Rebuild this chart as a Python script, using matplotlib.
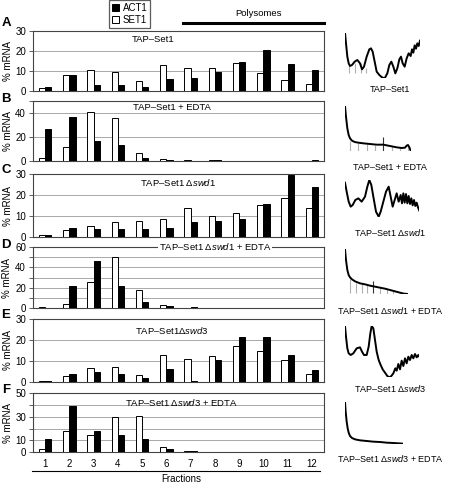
import matplotlib
matplotlib.use("Agg")
import matplotlib.pyplot as plt
from matplotlib.patches import Patch
from matplotlib.lines import Line2D

plt.rcParams['font.family'] = ['Liberation Sans', 'DejaVu Sans']
plt.rcParams['mathtext.fontset'] = 'custom'
plt.rcParams['mathtext.rm'] = 'Liberation Sans'
plt.rcParams['mathtext.it'] = 'Liberation Sans:italic'

# ---------------- data ----------------
fractions = [1, 2, 3, 4, 5, 6, 7, 8, 9, 10, 11, 12]
series_names = ["ACT1", "SET1"]
panel_letters = ["A", "B", "C", "D", "E", "F"]
panel_titles = [
    "TAP–Set1",
    "TAP–Set1 + EDTA",
    r"TAP–Set1 $\Delta\it{swd1}$",
    r"TAP–Set1 $\Delta\it{swd1}$ + EDTA",
    r"TAP–Set1$\Delta\it{swd3}$",
    r"TAP–Set1 $\Delta\it{swd3}$ + EDTA",
]
profile_labels = [
    "TAP–Set1",
    "TAP–Set1 + EDTA",
    r"TAP–Set1 $\Delta\it{swd1}$",
    r"TAP–Set1 $\Delta\it{swd1}$ + EDTA",
    r"TAP–Set1 $\Delta\it{swd3}$",
    r"TAP–Set1 $\Delta\it{swd3}$ + EDTA",
]

set1_A = [1.5, 8.0, 10.3, 9.2, 5.0, 13.0, 11.2, 11.5, 14.0, 8.8, 5.2, 3.5]
act1_A = [2.0, 8.0, 3.0, 2.7, 1.7, 6.0, 6.3, 9.6, 14.5, 20.4, 13.5, 10.3]
set1_B = [2.2, 11.5, 41.0, 36.0, 6.5, 1.4, 0.5, 0.5, 0.4, 0.4, 0.4, 0.4]
act1_B = [26.7, 37.0, 16.6, 13.5, 2.5, 1.1, 0.4, 1.0, 0.3, 0.3, 0.3, 0.5]
set1_C = [1.1, 3.3, 5.4, 7.1, 7.5, 8.5, 13.8, 10.2, 11.4, 15.2, 18.6, 14.1]
act1_C = [1.1, 4.1, 4.0, 3.6, 3.6, 4.3, 7.1, 7.5, 8.6, 15.7, 29.7, 24.1]
set1_D = [0.8, 3.9, 26.1, 50.0, 17.7, 3.2, 0.4, 0.3, 0.3, 0.3, 0.2, 0.2]
act1_D = [0.0, 22.3, 46.1, 21.6, 6.1, 1.9, 1.0, 0.3, 0.0, 0.0, 0.0, 0.0]
set1_E = [0.3, 2.9, 6.4, 6.9, 3.4, 12.6, 10.7, 12.2, 17.4, 15.0, 10.2, 3.5]
act1_E = [0.2, 3.8, 4.5, 3.5, 1.8, 6.2, 0.5, 10.6, 21.3, 21.3, 12.6, 5.4]
set1_F = [2.5, 18.2, 14.6, 30.0, 31.0, 4.2, 1.4, 0.6, 0.5, 0.5, 0.3, 0.4]
act1_F = [11.2, 39.0, 18.2, 14.8, 10.9, 3.1, 0.8, 0.4, 0.3, 0.2, 0.2, 0.2]

set1_all = [set1_A, set1_B, set1_C, set1_D, set1_E, set1_F]
act1_all = [act1_A, act1_B, act1_C, act1_D, act1_E, act1_F]

y_max = [30, 50, 30, 60, 30, 50]
y_grid = [[10, 20, 30], [20, 40, 50], [10, 20, 30],
          [10, 20, 30, 40, 50, 60], [10, 20, 30], [10, 20, 30, 40, 50]]
y_ticklabels = [[0, 10, 20, 30], [0, 20, 40], [0, 10, 20, 30],
                [0, 20, 40, 60], [0, 10, 20, 30], [0, 10, 30, 50]]

# polysome profile traces (position along gradient, absorbance reading)
prof1_x = [45, 48, 52, 56, 60, 66, 74, 82, 90, 96, 102, 110, 118, 123, 128, 134, 140, 148, 156, 164,
           172, 178, 184, 190, 196, 202, 208, 213, 218, 224, 230, 236, 242, 246, 250, 254, 258, 262, 266, 270]
prof1_y = [38, 70, 110, 130, 138, 135, 125, 120, 130, 148, 140, 110, 88, 85, 95, 125, 155, 165, 172, 175,
           160, 135, 125, 140, 160, 145, 118, 110, 130, 140, 115, 100, 108, 88, 98, 76, 86, 70, 78, 62]
prof2_x = [45, 48, 52, 56, 60, 66, 74, 85, 100, 120, 140, 160, 180, 200, 215, 225, 230, 234, 238, 242]
prof2_y = [258, 290, 325, 345, 355, 362, 366, 368, 370, 372, 374, 374, 378, 382, 384, 383, 377, 375, 382, 392]
prof3_x = [45, 50, 56, 62, 68, 76, 85, 95, 105, 112, 118, 124, 130, 138, 146, 152, 160, 168, 176, 182,
           188, 194, 200, 206, 212, 216, 220, 224, 228, 232, 236, 240, 244, 248, 252, 256, 260, 264, 268]
prof3_y = [488, 515, 545, 560, 555, 540, 535, 545, 530, 500, 480, 495, 530, 575, 590, 575, 545, 515, 500, 530,
           560, 540, 520, 545, 525, 550, 520, 548, 522, 550, 528, 552, 535, 556, 540, 558, 548, 562, 572]
prof4_x = [45, 48, 52, 56, 60, 66, 75, 90, 105, 120, 135, 150, 165, 180, 195, 210, 222, 235]
prof4_y = [28, 60, 90, 105, 112, 118, 124, 130, 133, 137, 140, 143, 146, 150, 154, 158, 161, 162]
prof5_x = [45, 48, 52, 56, 62, 70, 80, 90, 96, 102, 110, 116, 121, 125, 130, 135, 140, 146, 152, 158,
           165, 172, 178, 184, 190, 196, 200, 205, 210, 215, 220, 225, 230, 235, 240, 245, 250, 255, 260, 265, 268]
prof5_y = [258, 290, 325, 340, 345, 340, 325, 322, 335, 345, 345, 320, 280, 258, 265, 300, 335, 360, 375, 388,
           398, 408, 412, 408, 400, 385, 392, 372, 388, 362, 378, 355, 370, 350, 360, 345, 355, 342, 352, 345, 350]
prof6_x = [45, 47, 50, 53, 56, 60, 66, 75, 90, 110, 130, 150, 170, 190, 205, 220]
prof6_y = [485, 515, 545, 565, 578, 588, 594, 598, 601, 603, 605, 606, 608, 609, 610, 611]
profiles = [(prof1_x, prof1_y), (prof2_x, prof2_y), (prof3_x, prof3_y),
            (prof4_x, prof4_y), (prof5_x, prof5_y), (prof6_x, prof6_y)]

# fraction marks drawn under the profiles (x, top, bottom); the darker one marks fraction 5/6
marks1_x = [58, 75, 92, 108]
marks1_top = [135, 128, 128, 145]
marks1_bot = [160, 160, 160, 160]
marks2_x = [60, 85, 110, 135, 185, 210, 235]
marks2_top = [362, 370, 372, 374, 378, 383, 380]
marks2_bot = [392, 392, 392, 392, 392, 392, 392]
marks2_dark_x = [160]
marks2_dark_top = [352]
marks2_dark_bot = [394]
marks4_x = [60, 78, 95, 112, 150, 170, 190, 210]
marks4_top = [116, 128, 132, 136, 143, 146, 152, 158]
marks4_bot = [160, 160, 160, 160, 162, 162, 162, 162]
marks4_dark_x = [130]
marks4_dark_top = [124]
marks4_dark_bot = [160]
marks_all = [(marks1_x, marks1_top, marks1_bot, [], [], []),
             (marks2_x, marks2_top, marks2_bot, marks2_dark_x, marks2_dark_top, marks2_dark_bot),
             None,
             (marks4_x, marks4_top, marks4_bot, marks4_dark_x, marks4_dark_top, marks4_dark_bot),
             None, None]

# ---------------- layout ----------------
W, H = 449, 484
fig = plt.figure(figsize=(W / 100, H / 100), dpi=100)


def rect(left, top, right, bottom):
    return [left / W, 1 - bottom / H, (right - left) / W, (bottom - top) / H]


def fx(x):
    return x / W


def fy(y):
    return 1 - y / H


ax_left, ax_right = 33, 324
panel_tb = [(31, 90.6), (101.5, 161), (174.3, 237), (247, 308.3), (319.3, 381.7), (393, 452.3)]
title_pos = [(153, 39), (172, 108), (178, 182), (215, 247), (172, 330), (181, 402)]
letter_y = [23, 99, 170, 245, 315, 390]

bw = 0.26
grid_col = "#9a9a9a"
axes_list = []
for i in range(6):
    top, bot = panel_tb[i]
    ax = fig.add_axes(rect(ax_left, top, ax_right, bot))
    axes_list.append(ax)
    ax.bar([f - bw / 2 for f in fractions], set1_all[i], width=bw, color="white",
           edgecolor="black", linewidth=0.7, zorder=3)
    ax.bar([f + bw / 2 for f in fractions], act1_all[i], width=bw, color="black",
           edgecolor="black", linewidth=0.7, zorder=3)
    ax.set_xlim(0.5, 12.5)
    ax.set_ylim(0, y_max[i])
    for g in y_grid[i]:
        if g < y_max[i]:
            ax.axhline(g, color=grid_col, lw=0.6, zorder=1)
    ticks = sorted(set(y_grid[i] + [0]))
    ax.set_yticks(ticks)
    ax.set_yticklabels([str(t) if t in y_ticklabels[i] else "" for t in ticks])
    ax.set_xticks([])
    ax.tick_params(axis='y', length=3, width=0.6, labelsize=7, pad=2, color="#444444")
    for s in ax.spines.values():
        s.set_color("#444444")
        s.set_linewidth(0.8)
    ax.set_ylabel("% mRNA", fontsize=7, labelpad=2)
    tx, ty = title_pos[i]
    fig.text(fx(tx), fy(ty), panel_titles[i], fontsize=6.8, ha="center", va="center",
             bbox=dict(facecolor="white", edgecolor="none", pad=0.5) if i == 3 else None, zorder=5)
    fig.text(fx(6), fy(letter_y[i]), panel_letters[i], fontsize=9.5, fontweight="bold",
             ha="center", va="center")

# fraction axis labels under F
axF = axes_list[-1]
axF.set_xticks(fractions)
axF.set_xticklabels([str(f) for f in fractions])
axF.tick_params(axis='x', length=0, labelsize=7, pad=5)
fig.add_artist(Line2D([fx(32), fx(320)], [fy(471), fy(471)], color="black", lw=0.8))
fig.text(fx(181), fy(479), "Fractions", fontsize=7, ha="center", va="center")

# legend
handles = [Patch(facecolor="black", edgecolor="black", lw=0.7),
           Patch(facecolor="white", edgecolor="black", lw=0.7)]
leg = fig.legend(handles, series_names, loc="upper left", bbox_to_anchor=(fx(109), fy(0)),
                 fontsize=7, frameon=True, fancybox=False, edgecolor="#333333",
                 handlelength=0.7, handleheight=0.7, handletextpad=0.4, borderpad=0.3,
                 labelspacing=0.2, borderaxespad=0)
leg.get_frame().set_linewidth(0.9)

# polysomes bar
fig.add_artist(Line2D([fx(183), fx(324)], [fy(23), fy(23)], color="black", lw=2.2))
fig.text(fx(259), fy(13), "Polysomes", fontsize=6.8, ha="center", va="center")

# polysome profile traces
prof_offsets = [(330, 20), (330, 20), (330, 20), (330, 240), (330, 240), (330, 240)]
prof_label_y = [90, 167, 233, 310, 388, 458]
for i, (px, py) in enumerate(profiles):
    ox, oy = prof_offsets[i]
    ymin_v, ymax_v = min(py), max(py)
    mk = marks_all[i]
    if mk is not None:
        ymax_v = max(ymax_v, max(mk[2] + mk[5]) if (mk[2] + mk[5]) else ymax_v)
    l, r = ox + min(px) / 3, ox + max(px) / 3
    t, b = oy + ymin_v / 3, oy + ymax_v / 3
    pax = fig.add_axes(rect(l, t, r, b))
    if mk is not None:
        pax.vlines(mk[0], mk[1], mk[2], color="#b0b0b0", lw=0.8)
        if mk[3]:
            pax.vlines(mk[3], mk[4], mk[5], color="#333333", lw=0.8)
    pax.plot(px, py, color="black", lw=1.4, solid_joinstyle="round")
    pax.set_xlim(min(px), max(px))
    pax.set_ylim(ymax_v, ymin_v)
    pax.axis("off")
    fig.text(fx(390), fy(prof_label_y[i]), profile_labels[i], fontsize=6.5, ha="center", va="center")

fig.savefig("out.png", dpi=100)
